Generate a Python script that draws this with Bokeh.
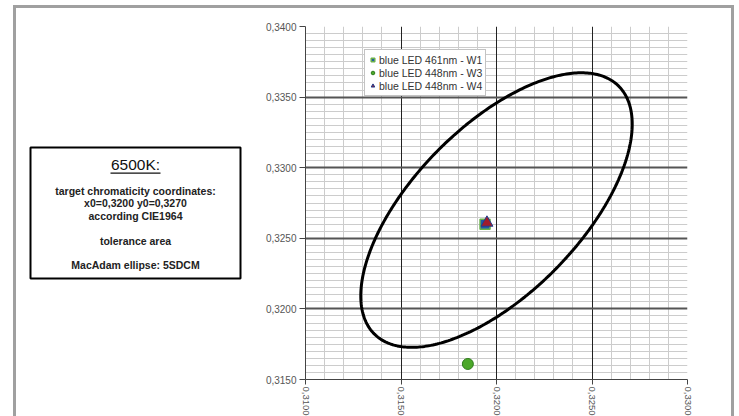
import math
import numpy as np
from bokeh.plotting import figure
from bokeh.layouts import row
from bokeh.models import Range1d, FixedTicker, Label, BoxAnnotation, Legend, LegendItem, Grid
from bokeh.embed import file_html
from bokeh.resources import INLINE

# ---------------- data ----------------
x_ticks = [0.3100, 0.3150, 0.3200, 0.3250, 0.3300]
x_tick_labels = ["0,3100", "0,3150", "0,3200", "0,3250", "0,3300"]
y_ticks = [0.3150, 0.3200, 0.3250, 0.3300, 0.3350, 0.3400]
y_tick_labels = ["0,3150", "0,3200", "0,3250", "0,3300", "0,3350", "0,3400"]

series_names = ["blue LED 461nm - W1", "blue LED 448nm - W3", "blue LED 448nm - W4"]
series_x = [0.3194, 0.3185, 0.3195]
series_y = [0.3260, 0.3161, 0.3261]

# MacAdam ellipse (5 SDCM) around target x0=0.3200, y0=0.3270
ellipse_cx = 0.3200
ellipse_cy = 0.3270
ellipse_a = 0.0110      # semi-major axis
ellipse_b = 0.0049      # semi-minor axis
ellipse_angle = 58.5    # degrees

info_title = "6500K:"
info_lines = ["target chromaticity coordinates:", "x0=0,3200 y0=0,3270",
              "according CIE1964", "tolerance area", "MacAdam ellipse: 5SDCM"]

FONT = "Liberation Sans"

# ---------------- left info panel (frame aligned with chart frame) ----------------
LW, LH = 242, 353
left = figure(frame_width=LW, frame_height=LH, x_range=Range1d(0, LW), y_range=Range1d(0, LH),
              x_axis_location=None, y_axis_location=None, toolbar_location=None,
              output_backend="svg", min_border_left=0, min_border_right=0,
              min_border_top=18, min_border_bottom=30)
left.grid.visible = False
left.outline_line_color = None
left.background_fill_color = "white"
left.border_fill_color = "white"

box_l, box_r, box_t, box_b = 14, 224, LH - 121, LH - 252
left.add_layout(BoxAnnotation(left=box_l, right=box_r, top=box_t, bottom=box_b,
                              fill_alpha=0, line_color="black", line_alpha=1, line_width=2))
cx = (box_l + box_r) / 2
left.add_layout(Label(x=cx, y=box_t - 17, text=info_title, text_align="center",
                      text_baseline="middle", text_font=FONT, text_font_size="15.5px",
                      text_color="#111111"))
left.add_layout(BoxAnnotation(left=cx - 25, right=cx + 25, top=box_t - 25, bottom=box_t - 26.3,
                              fill_color="#111111", fill_alpha=1, line_color=None))
offsets = [43, 55, 68, 93, 117]
for t, off in zip(info_lines, offsets):
    left.add_layout(Label(x=cx, y=box_t - off, text=t, text_align="center",
                          text_baseline="middle", text_font=FONT, text_font_size="10.5px",
                          text_font_style="bold", text_color="#222222"))

# ---------------- chart ----------------
p = figure(frame_width=382, frame_height=353, x_range=Range1d(0.31, 0.33),
           y_range=Range1d(0.315, 0.34), toolbar_location=None, output_backend="svg",
           min_border_left=47, min_border_right=44, min_border_top=18, min_border_bottom=30)
p.outline_line_color = None
p.background_fill_color = "white"
p.border_fill_color = "white"

x_grid_major = x_ticks[1:]
y_grid_major = y_ticks[1:-1]
x_minor = [v for v in (round(0.310 + 0.001 * i, 4) for i in range(21))
           if all(abs(v - m) > 1e-7 for m in x_grid_major)]
y_minor = [v for v in (round(0.315 + 0.0005 * i, 4) for i in range(51))
           if all(abs(v - m) > 1e-7 for m in y_grid_major)]

p.xaxis.ticker = FixedTicker(ticks=x_ticks)
p.yaxis.ticker = FixedTicker(ticks=y_ticks)
p.xaxis.major_label_overrides = dict(zip(x_ticks, x_tick_labels))
p.yaxis.major_label_overrides = dict(zip(y_ticks, y_tick_labels))
p.xaxis.major_label_orientation = -math.pi / 2

for ax in (p.xaxis, p.yaxis):
    ax.axis_line_color = "#444444"
    ax.major_tick_line_color = "#444444"
    ax.major_tick_in = 0
    ax.minor_tick_line_color = None
    ax.major_label_text_font = FONT
    ax.major_label_text_color = "#555555"
p.yaxis.major_tick_out = 6
p.yaxis.major_label_standoff = 3
p.yaxis.major_label_text_font_size = "10px"
p.xaxis.major_tick_out = 5
p.xaxis.major_label_standoff = 2
p.xaxis.major_label_text_font_size = "9.5px"

# grids: minor lines first, major lines drawn over them
gx_minor = Grid(dimension=0, ticker=FixedTicker(ticks=x_minor), grid_line_color="#cccccc",
                grid_line_width=1)
gy_minor = Grid(dimension=1, ticker=FixedTicker(ticks=y_minor), grid_line_color="#cccccc",
                grid_line_width=1)
gx = p.xgrid[0]
gy = p.ygrid[0]
gx.ticker = FixedTicker(ticks=x_grid_major)
gy.ticker = FixedTicker(ticks=y_grid_major)
gx.grid_line_color = "#222222"
gx.grid_line_width = 1
gy.grid_line_color = "#555555"
gy.grid_line_width = 2
p.center = [gx_minor, gy_minor, gx, gy]

# ellipse outline from its parameters
t = np.linspace(0, 2 * np.pi, 361)
th = np.radians(ellipse_angle)
ex = ellipse_cx + ellipse_a * np.cos(t) * np.cos(th) - ellipse_b * np.sin(t) * np.sin(th)
ey = ellipse_cy + ellipse_a * np.cos(t) * np.sin(th) + ellipse_b * np.sin(t) * np.cos(th)
p.line(ex, ey, line_color="black", line_width=3)

r1 = p.scatter([series_x[0]], [series_y[0]], marker="square", size=10,
               fill_color="#1f5aa8", line_color="#6ab04c", line_width=1.5)
r2 = p.scatter([series_x[1]], [series_y[1]], marker="circle", size=11,
               fill_color="#4ca82a", line_color="#2f7d1c", line_width=1)
r3 = p.scatter([series_x[2]], [series_y[2]], marker="triangle", size=12,
               fill_color="#a01c2c", line_color="#1f3f8f", line_width=1)

legend = Legend(items=[LegendItem(label=series_names[0], renderers=[r1]),
                       LegendItem(label=series_names[1], renderers=[r2]),
                       LegendItem(label=series_names[2], renderers=[r3])],
                location=(59, 283), padding=3, spacing=0, margin=0,
                label_text_font=FONT, label_text_font_size="10.5px", label_text_color="#333333",
                label_height=13, glyph_height=11, glyph_width=9, label_standoff=2,
                border_line_color="#888888", border_line_width=1,
                background_fill_color="white", background_fill_alpha=1)
p.add_layout(legend)

layout = row(left, p, margin=(5, 0, 0, 13),
             styles={"border-style": "solid", "border-color": "#a0a0a0",
                     "border-width": "3px 3px 0px 3px"})

open("out.html", "w").write(file_html(layout, INLINE))
